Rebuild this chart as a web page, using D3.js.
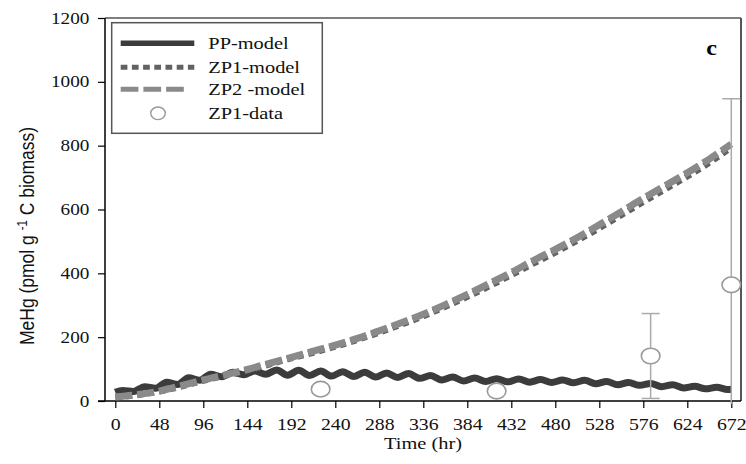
<!DOCTYPE html>
<html>
<head>
<meta charset="utf-8">
<script src="https://cdn.jsdelivr.net/npm/d3@7/dist/d3.min.js"></script>
<style>
html,body{margin:0;padding:0;background:#fff;}
svg{display:block;}
</style>
</head>
<body>
<svg id="chart" width="746" height="464"></svg>
<script>
// ---------------- data ----------------
const xTicks = [0,48,96,144,192,240,288,336,384,432,480,528,576,624,672];
const yTicks = [0,200,400,600,800,1000,1200];

// PP-model (daily oscillation: crest / trough every 12 hr)
const ppTime = [0,8,20,32,44,56,68,80,92,104,116,128,140,152,164,176,188,200,212,224,236,248,260,272,284,296,308,320,332,344,356,368,380,392,404,416,428,440,452,464,476,488,500,512,524,536,548,560,572,584,596,608,620,632,644,656,668,672];
const ppValue = [27,33,30,45,40,59,52,73,65,84,76,90,82,94,84,97,81,96,80,94,78,92,77,90,75,88,74,86,71,80,66,75,63,72,61,70,60,69,59,67,58,66,57,65,54,61,51,58,49,55,45,51,41,46,38,43,36,37];

// ZP1 / ZP2 models
const zpTime = [0,24,48,72,96,120,144,168,192,216,240,264,288,312,336,360,384,408,432,456,480,504,528,552,576,600,624,648,672];
const zp1Value = [12,19,30,46,64,80,96,115,134,152,171,192,215,240,266,296,327,360,395,431,466,503,542,583,624,664,704,747,795];
const zp2Value = [13,20,31,48,66,82,99,118,137,156,175,196,220,245,272,302,334,368,403,440,475,512,552,593,635,675,715,758,805];

// ZP1 observations
const obsTime = [224,416,584,672];
const obsValue = [37,31,141,364];
const obsErr = [0,0,133,583];

const legendLabels = ["PP-model","ZP1-model","ZP2 -model","ZP1-data"];

// ---------------- layout ----------------
const svg = d3.select("#chart");
const L = 105, R = 741, T = 18, B = 401;
const SX = 1.2; // horizontal stretch of the original figure's text
const serif = "'Liberation Serif','Times New Roman',serif";

const x = d3.scaleLinear().domain([0,672]).range([115.3,731.3]);
const y = d3.scaleLinear().domain([0,1200]).range([B,T]);

svg.append("defs").append("clipPath").attr("id","clip")
  .append("rect").attr("x",L).attr("y",T).attr("width",R-L).attr("height",B-T+3);

// frame top/right
svg.append("line").attr("x1",L).attr("x2",R).attr("y1",T).attr("y2",T)
  .attr("stroke","#555").attr("stroke-width",1.5);
svg.append("line").attr("x1",R).attr("x2",R).attr("y1",T).attr("y2",B)
  .attr("stroke","#555").attr("stroke-width",2);

// axes
const xAxis = svg.append("g").attr("transform",`translate(0,${B})`)
  .call(d3.axisBottom(x).tickValues(xTicks).tickFormat(d3.format("d")).tickSizeOuter(0).tickSize(7).tickPadding(0));
xAxis.select(".domain").remove();
xAxis.append("line").attr("x1",98).attr("x2",R).attr("y1",0).attr("y2",0)
  .attr("stroke","#000").attr("stroke-width",1.5);
xAxis.selectAll(".tick line").attr("stroke","#000").attr("stroke-width",1.2);
xAxis.selectAll(".tick text")
  .attr("y",29).attr("dy",0)
  .attr("transform",`scale(${SX},1)`)
  .style("font-family",serif)
  .style("font-size","16.5px").attr("fill","#111");

const yAxis = svg.append("g").attr("transform",`translate(${L},0)`)
  .call(d3.axisLeft(y).tickValues(yTicks).tickFormat(d3.format("d")).tickSizeOuter(0).tickSize(7));
yAxis.select(".domain").remove();
yAxis.append("line").attr("x1",0).attr("x2",0).attr("y1",T).attr("y2",B)
  .attr("stroke","#000").attr("stroke-width",1.5);
yAxis.selectAll(".tick line").attr("stroke","#000").attr("stroke-width",1.2);
yAxis.selectAll(".tick text")
  .attr("x",-15.7/SX).attr("dy",0).attr("y",5)
  .attr("transform",`scale(${SX},1)`)
  .style("font-family",serif)
  .style("font-size","16px").attr("fill","#111");

// axis titles
svg.append("text")
  .attr("transform",`translate(${423},${449}) scale(${SX},1)`)
  .attr("text-anchor","middle")
  .style("font-family",serif)
  .style("font-size","17px").attr("fill","#111")
  .text("Time (hr)");

const yl = svg.append("text")
  .attr("transform",`translate(34,345) rotate(-90) scale(1,1.2)`)
  .attr("text-anchor","start")
  .style("font-family","'Liberation Sans',Arial,sans-serif")
  .style("font-size","17.5px").attr("fill","#111");
yl.append("tspan").text("MeHg (pmol g ");
yl.append("tspan").attr("dy",-6).style("font-size","11.5px").text("-1");
yl.append("tspan").attr("dy",6).text(" C biomass)");

// panel letter
svg.append("text")
  .attr("transform",`translate(711.5,55) scale(${SX},1)`)
  .attr("text-anchor","middle")
  .style("font-family",serif)
  .style("font-size","20px").style("font-weight","bold")
  .text("c");

// ---------------- marks ----------------
const plot = svg.append("g").attr("clip-path","url(#clip)");

const ppLine = d3.line().x((d,i)=>x(ppTime[i])).y(d=>y(d)).curve(d3.curveMonotoneX);
const zpLine = d3.line().x((d,i)=>x(zpTime[i])).y(d=>y(d)).curve(d3.curveMonotoneX);

plot.append("path").attr("d",ppLine(ppValue))
  .attr("fill","none").attr("stroke","#3c3c3c").attr("stroke-width",7);
plot.append("path").attr("d",zpLine(zp1Value))
  .attr("fill","none").attr("stroke","#626262").attr("stroke-width",6.5)
  .attr("stroke-dasharray","6,5");
plot.append("path").attr("d",zpLine(zp2Value))
  .attr("fill","none").attr("stroke","#8a8a8a").attr("stroke-width",7)
  .attr("stroke-dasharray","17,5");

// error bars
const eb = plot.append("g").attr("stroke","#aaa").attr("stroke-width",1.5);
obsTime.forEach((t,i)=>{
  if(obsErr[i]<=0) return;
  const cx = x(t);
  eb.append("line").attr("x1",cx).attr("x2",cx)
    .attr("y1",y(obsValue[i]+obsErr[i])).attr("y2",y(obsValue[i]-obsErr[i]));
  eb.append("line").attr("x1",cx-9).attr("x2",cx+9)
    .attr("y1",y(obsValue[i]+obsErr[i])).attr("y2",y(obsValue[i]+obsErr[i]));
  eb.append("line").attr("x1",cx-9).attr("x2",cx+9)
    .attr("y1",y(obsValue[i]-obsErr[i])).attr("y2",y(obsValue[i]-obsErr[i]));
});
svg.append("g").selectAll("ellipse").data(obsValue).join("ellipse")
  .attr("cx",(d,i)=>x(obsTime[i])).attr("cy",d=>y(d))
  .attr("rx",9.3).attr("ry",7.8)
  .attr("fill","#fff").attr("stroke","#999").attr("stroke-width",1.6);

// ---------------- legend ----------------
const lg = svg.append("g");
lg.append("rect").attr("x",111.7).attr("y",22.7).attr("width",210.6).attr("height",110.6)
  .attr("fill","#fff").attr("stroke","#555").attr("stroke-width",1.5);
const rowY = [43.3,67.3,89.3,113.3];
lg.append("line").attr("x1",120.7).attr("x2",194.3).attr("y1",rowY[0]).attr("y2",rowY[0])
  .attr("stroke","#3c3c3c").attr("stroke-width",5.5);
lg.append("line").attr("x1",120.7).attr("x2",194.3).attr("y1",rowY[1]).attr("y2",rowY[1])
  .attr("stroke","#626262").attr("stroke-width",5).attr("stroke-dasharray","6.7,4.5");
lg.append("line").attr("x1",120.7).attr("x2",185).attr("y1",rowY[2]).attr("y2",rowY[2])
  .attr("stroke","#8a8a8a").attr("stroke-width",5).attr("stroke-dasharray","17.7,5");
lg.append("ellipse").attr("cx",158).attr("cy",rowY[3]).attr("rx",7.3).attr("ry",6.3)
  .attr("fill","#fff").attr("stroke","#999").attr("stroke-width",1.4);
legendLabels.forEach((s,i)=>{
  lg.append("text")
    .attr("transform",`translate(208.3,${rowY[i]+6}) scale(${SX},1)`)
    .style("font-family",serif)
    .style("font-size","17px").attr("fill","#111").text(s);
});
</script>
</body>
</html>
